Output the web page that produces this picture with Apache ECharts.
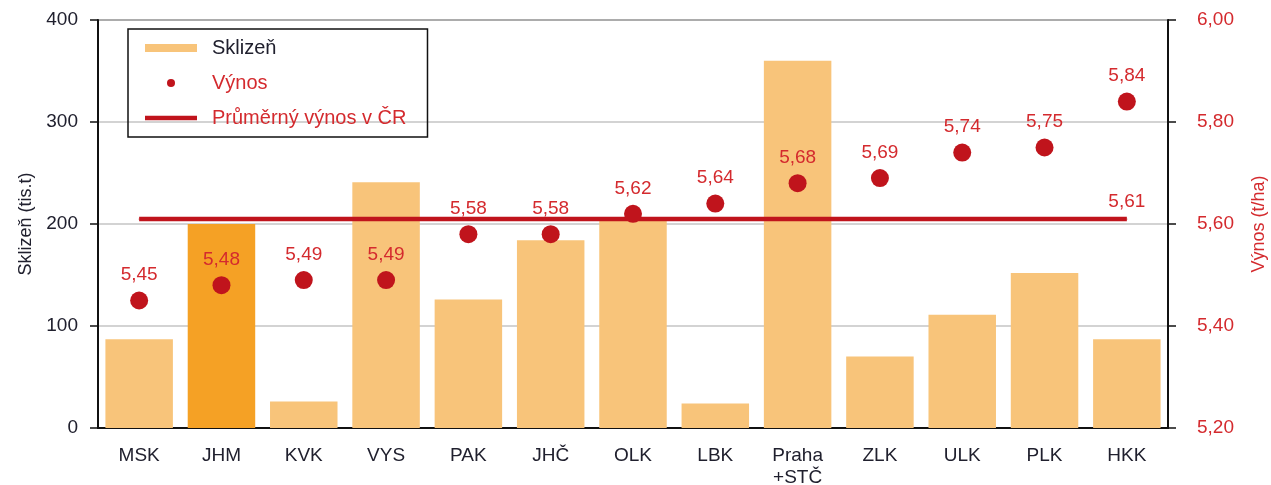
<!DOCTYPE html>
<html>
<head>
<meta charset="utf-8">
<script src="https://cdn.jsdelivr.net/npm/echarts@6/dist/echarts.min.js"></script>
<style>
  html, body { margin: 0; padding: 0; background: #fff; }
  #main { width: 1271px; height: 485px; }
</style>
</head>
<body>
<div id="main"></div>
<script>
// kraje
var categories = ['MSK', 'JHM', 'KVK', 'VYS', 'PAK', 'JHČ', 'OLK', 'LBK', 'Praha\n+STČ', 'ZLK', 'ULK', 'PLK', 'HKK'];
// sklizeň (tis. t)
var harvest = [87, 200, 26, 241, 126, 184, 205, 24, 360, 70, 111, 152, 87];
// výnos (t/ha)
var yields = [5.45, 5.48, 5.49, 5.49, 5.58, 5.58, 5.62, 5.64, 5.68, 5.69, 5.74, 5.75, 5.84];
var avgYield = 5.61;
var highlighted = 'JHM';

var fmt = function (v) { return v.toFixed(2).replace('.', ','); };
var red = '#c0141c';
var labelRed = '#d42a2e';
var dark = '#20202e';

var myChart = echarts.init(document.getElementById('main'));

var barData = harvest.map(function (v, i) {
  if (categories[i] === highlighted) {
    return { value: v, itemStyle: { color: '#f5a125' } };
  }
  return v;
});
// popisek jen u posledniho bodu
var avgData = categories.map(function (c, i) {
  if (i === categories.length - 1) {
    return { value: avgYield, label: { show: true } };
  }
  return avgYield;
});

myChart.setOption({
  animation: false,
  textStyle: { fontFamily: 'Liberation Sans, Arial, sans-serif' },
  grid: {
    left: 98, right: 103, top: 20, bottom: 57,
    outerBoundsMode: 'none',
    show: true, borderColor: '#333', borderWidth: 1.5
  },
  legend: {
    orient: 'vertical',
    left: 128, top: 29,
    padding: [9, 21, 9, 17],
    itemGap: 15,
    itemWidth: 52, itemHeight: 8,
    borderColor: '#111', borderWidth: 1.5,
    textStyle: { fontSize: 20, padding: [0, 0, 0, 10] },
    data: [
      { name: 'Sklizeň', icon: 'rect', textStyle: { color: dark } },
      { name: 'Výnos', icon: 'circle', textStyle: { color: labelRed } },
      { name: 'Průměrný výnos v ČR', icon: 'path://M0,0H52V4.5H0Z', textStyle: { color: labelRed } }
    ]
  },
  xAxis: {
    type: 'category',
    data: categories,
    axisLine: { lineStyle: { color: '#111', width: 2 } },
    axisTick: { show: false },
    axisLabel: { color: dark, fontSize: 19, margin: 17, lineHeight: 22 }
  },
  yAxis: [
    {
      type: 'value', min: 0, max: 400, interval: 100,
      name: 'Sklizeň (tis.t)', nameLocation: 'middle', nameGap: 62,
      nameTextStyle: { color: dark, fontSize: 18 },
      axisLine: { show: true, lineStyle: { color: '#111', width: 2 } },
      axisTick: { show: true, length: 8, lineStyle: { color: '#111', width: 1.5 } },
      axisLabel: { color: dark, fontSize: 19, margin: 20 },
      splitLine: { lineStyle: { color: '#c4c4c4', width: 1.5 } }
    },
    {
      type: 'value', min: 5.2, max: 6.0, interval: 0.2,
      name: 'Výnos (t/ha)', nameLocation: 'middle', nameGap: 82,
      nameTextStyle: { color: labelRed, fontSize: 18 },
      axisLine: { show: true, lineStyle: { color: '#111', width: 2 } },
      axisTick: { show: true, length: 8, lineStyle: { color: '#111', width: 1.5 } },
      axisLabel: { color: labelRed, fontSize: 19, margin: 29, formatter: fmt },
      splitLine: { show: false }
    }
  ],
  series: [
    {
      name: 'Sklizeň',
      type: 'bar',
      yAxisIndex: 0,
      data: barData,
      barCategoryGap: '18%',
      itemStyle: { color: '#f8c47a' }
    },
    {
      name: 'Průměrný výnos v ČR',
      type: 'line',
      yAxisIndex: 1,
      data: avgData,
      symbol: 'circle',
      symbolSize: 1,
      showSymbol: true,
      lineStyle: { color: red, width: 4.5 },
      itemStyle: { color: red },
      label: {
        show: false, position: 'top', distance: 7,
        color: labelRed, fontSize: 19,
        formatter: function (p) { return fmt(p.value); }
      },
      z: 3
    },
    {
      name: 'Výnos',
      type: 'scatter',
      yAxisIndex: 1,
      data: yields,
      symbolSize: 18,
      itemStyle: { color: red, opacity: 1 },
      label: {
        show: true, position: 'top', distance: 7,
        color: labelRed, fontSize: 19,
        formatter: function (p) { return fmt(p.value); }
      },
      z: 4
    }
  ]
});
</script>
</body>
</html>
